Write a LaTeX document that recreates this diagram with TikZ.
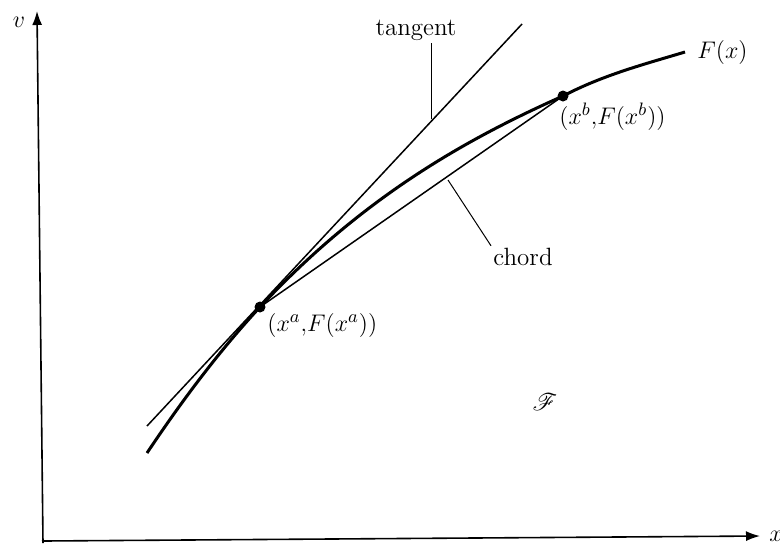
\documentclass[tikz,border=0pt]{standalone}
\usepackage{amsmath,amssymb}
\usepackage{mathrsfs}
\usetikzlibrary{arrows.meta,positioning,calc}
\tikzset{
  ptdot/.style={circle,fill=black,inner sep=0pt,minimum size=5.5pt},
  lbl/.style={font=\fontsize{12.5}{15}\selectfont,inner sep=1pt},
  axisline/.style={line width=0.8pt,-{Latex[length=7pt,width=5pt]}},
  thinline/.style={line width=0.75pt},
}
\begin{document}
\begin{tikzpicture}[x=0.5pt,y=-0.5pt]
  \useasboundingbox (0,0) rectangle (780,543);
  % axes
  \coordinate (vbot) at (43,543);
  \coordinate (vtop) at (37,11);
  \coordinate (O) at (42,541);
  \coordinate (xend) at (760,536);
  \draw[axisline] (vbot) -- (vtop);
  \draw[axisline] (O) -- (xend);
  \node[lbl] (vlab) at (19,22) {$v$};
  \node[lbl] (xlab) at (776,536) {$x$};
  % tangent and chord
  \coordinate (t1) at (147,426);
  \coordinate (t2) at (522,24);
  \node[ptdot] (a) at (260,307) {};
  \node[ptdot] (b) at (563,96) {};
  \draw[thinline] (t1) -- (t2);
  \draw[thinline] (a.center) -- (b.center);
  % the function
  \draw[line width=1.5pt] (147,453) .. controls (185,396) and (222,348) .. (a.center)
    .. controls (361,199) and (462,141) .. (b.center)
    .. controls (603,75) and (645,64) .. (685,52) coordinate (fend);
  \node[lbl,right=5pt of fend] (flab) {$F(x)$};
  \node[lbl,anchor=west] (alab) at (265,325) {$(x^a{,}F(x^a))$};
  \node[lbl,anchor=west] (blab) at (557,117) {$(x^b{,}F(x^b))$};
  % leaders
  \node[lbl] (tlab) at (416,30) {tangent};
  \coordinate (tpt) at (431,119);
  \draw[line width=0.5pt] (tpt) -- (tlab.south -| tpt);
  \node[lbl] (clab) at (523,257) {chord};
  \coordinate (cpt) at (448,180);
  \draw[line width=0.5pt] (cpt) -- (clab.north west);
  \node[lbl] (Fset) at (545,402) {$\mathscr{F}$};
\end{tikzpicture}
\end{document}
